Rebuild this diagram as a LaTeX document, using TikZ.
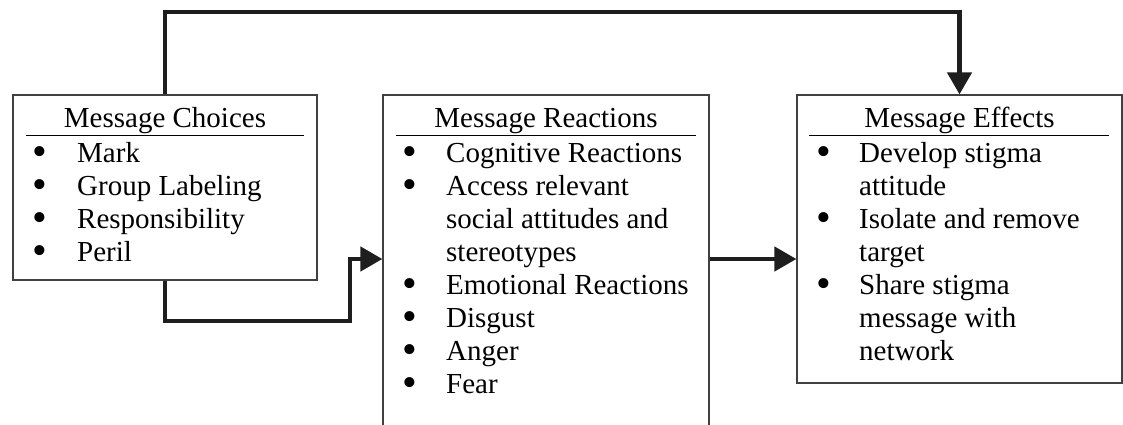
\documentclass[tikz,border=0pt]{standalone}
\usepackage{fontspec}
\setmainfont{Liberation Serif}
\usetikzlibrary{arrows.meta}

\definecolor{linegray}{HTML}{404040}
\definecolor{arrowgray}{HTML}{1E1E1E}

\tikzstyle{box} = [draw=linegray, line width=1.2pt, inner sep=0pt, fill=none]
\tikzstyle{title} = [anchor=base, inner sep=0pt, font=\fontsize{29pt}{33pt}\selectfont]
\tikzstyle{items} = [anchor=base west, inner sep=0pt, font=\fontsize{29pt}{33pt}\selectfont]
\tikzstyle{rule} = [line width=1pt, black]
\tikzstyle{conn} = [draw=arrowgray, line width=4.5pt, -{Triangle[length=22pt, width=24pt]}]

\newcommand{\bul}{\smash{\raisebox{-3pt}{\scalebox{1.45}{\textbullet}}}}

\begin{document}
\begin{tikzpicture}[x=1pt, y=-1pt]
\useasboundingbox (0,0) rectangle (1123,424);

\node[box, minimum width=304pt, minimum height=185pt] (choices) at (165,187.5) {};
\node[box, minimum width=326pt, minimum height=335pt] (reactions) at (546,262.5) {};
\node[box, minimum width=325pt, minimum height=288pt] (effects) at (959.5,239) {};

\node[title] (choicestitle) at (165,127) {Message Choices};
\node[title] (reactionstitle) at (546,127) {Message Reactions};
\node[title] (effectstitle) at (959.5,127) {Message Effects};

\draw[rule] ([shift={(14,41)}]choices.north west) -- ([shift={(-14,41)}]choices.north east);
\draw[rule] ([shift={(14,41)}]reactions.north west) -- ([shift={(-14,41)}]reactions.north east);
\draw[rule] ([shift={(13,41)}]effects.north west) -- ([shift={(-14,41)}]effects.north east);

\node[items] (choicelist) at (32,162) {\begin{tabular}[t]{@{}p{45pt}@{}l@{}}
\bul & Mark\\
\bul & Group Labeling\\
\bul & Responsibility\\
\bul & Peril
\end{tabular}};

\node[items] (reactionlist) at (402,162) {\begin{tabular}[t]{@{}p{44pt}@{}l@{}}
\bul & Cognitive Reactions\\
\bul & Access relevant\\
 & social attitudes and\\
 & stereotypes\\
\bul & Emotional Reactions\\
\bul & Disgust\\
\bul & Anger\\
\bul & Fear
\end{tabular}};

\node[items] (effectlist) at (816,162) {\begin{tabular}[t]{@{}p{43pt}@{}l@{}}
\bul & Develop stigma\\
 & attitude\\
\bul & Isolate and remove\\
 & target\\
\bul & Share stigma\\
 & message with\\
 & network
\end{tabular}};

\coordinate (topbend) at (165,12);
\coordinate (lowbend) at (350,321);
\coordinate (mid) at (0,259);

\draw[conn] (choices.north) -- (topbend) -| (effects.north);
\draw[conn] (choices.south) |- (lowbend) |- (reactions.west |- mid);
\draw[conn] (reactions.east |- mid) -- (effects.west |- mid);
\end{tikzpicture}
\end{document}
